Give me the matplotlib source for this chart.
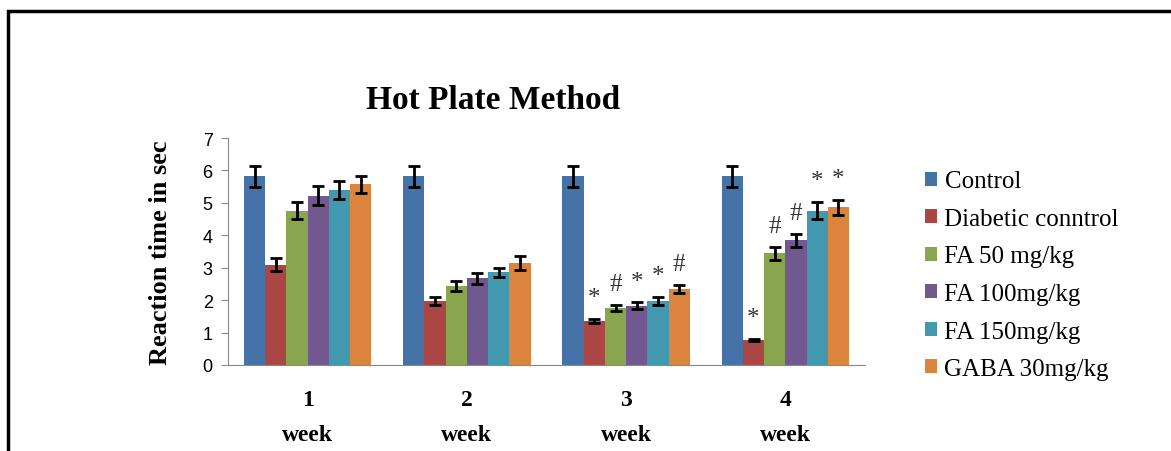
import numpy as np
import matplotlib
matplotlib.use("Agg")
import matplotlib.pyplot as plt
from matplotlib.patches import Rectangle

weeks = ["1\nweek", "2\nweek", "3\nweek", "4\nweek"]
groups = ["Control", "Diabetic conntrol", "FA 50 mg/kg", "FA 100mg/kg",
          "FA 150mg/kg", "GABA 30mg/kg"]

# mean reaction time (sec), one list per group, week 1..4
control = [5.82, 5.82, 5.82, 5.82]
diabetic = [3.09, 1.98, 1.35, 0.77]
fa50 = [4.76, 2.43, 1.76, 3.45]
fa100 = [5.22, 2.68, 1.83, 3.84]
fa150 = [5.39, 2.86, 1.98, 4.76]
gaba = [5.57, 3.14, 2.34, 4.87]

# error bar half-heights
control_err = [0.32, 0.32, 0.32, 0.32]
diabetic_err = [0.20, 0.13, 0.07, 0.03]
fa50_err = [0.26, 0.15, 0.10, 0.20]
fa100_err = [0.30, 0.17, 0.10, 0.20]
fa150_err = [0.28, 0.14, 0.13, 0.26]
gaba_err = [0.27, 0.21, 0.12, 0.23]

# significance marks above each bar ('' = none)
control_sig = ["", "", "", ""]
diabetic_sig = ["", "", "*", "*"]
fa50_sig = ["", "", "#", "#"]
fa100_sig = ["", "", "*", "#"]
fa150_sig = ["", "", "*", "*"]
gaba_sig = ["", "", "#", "*"]

values = [control, diabetic, fa50, fa100, fa150, gaba]
errors = [control_err, diabetic_err, fa50_err, fa100_err, fa150_err, gaba_err]
marks = [control_sig, diabetic_sig, fa50_sig, fa100_sig, fa150_sig, gaba_sig]
colors = ["#4572A7", "#AA4643", "#89A54E", "#71588F", "#4198AF", "#DB843D"]

serif = ["Liberation Serif", "DejaVu Serif"]

fig = plt.figure(figsize=(11.71, 4.52), dpi=100)
ax = fig.add_axes([228 / 1171, 1 - 366 / 452, 637 / 1171, 227 / 452])

# outer frame of the chart area (cropped at right/bottom)
fig.patches.append(Rectangle((8 / 1171, -0.1), 1.2, 1 - 12 / 452 + 0.1,
                             transform=fig.transFigure, fill=False,
                             edgecolor="black", linewidth=2.5))

x = np.arange(len(weeks))
w = 0.8 / len(groups)
for j, (vals, errs, sig) in enumerate(zip(values, errors, marks)):
    pos = x + (j - 2.5) * w
    ax.bar(pos, vals, width=w, color=colors[j], label=groups[j], zorder=2)
    ax.errorbar(pos, vals, yerr=errs, fmt="none", ecolor="black",
                elinewidth=2, capsize=4, capthick=2, zorder=3)
    for p, v, e, s in zip(pos, vals, errs, sig):
        if s:
            ax.text(p, v + e + 0.3, s, ha="center", va="bottom",
                    fontsize=18, family=serif, color="#333333")

ax.set_xlim(-0.5, len(weeks) - 0.5)
ax.set_ylim(0, 7)
ax.set_yticks(range(8))
ax.set_xticks(x)
ax.set_xticklabels(weeks, family=serif, fontsize=17, fontweight="bold",
                   linespacing=1.9)
for lab in ax.get_yticklabels():
    lab.set_family(["Liberation Sans", "DejaVu Sans"])
    lab.set_fontsize(13)
ax.tick_params(axis="x", length=0, pad=17)
ax.tick_params(axis="y", length=5, color="#888888", pad=6)
for s in ["top", "right"]:
    ax.spines[s].set_visible(False)
ax.spines["left"].set_color("#888888")
ax.spines["bottom"].set_color("#888888")

ax.set_ylabel("Reaction time in sec", family=serif, fontsize=19,
              fontweight="bold", labelpad=22)
fig.text(493 / 1171, 1 - 101 / 452, "Hot Plate Method", family=serif,
         fontsize=24, fontweight="bold", ha="center", va="center")

fig.legend(loc="upper left", bbox_to_anchor=(902 / 1171, 1 - 149 / 452),
           frameon=False, prop={"family": serif, "size": 18},
           handlelength=0.5, handleheight=0.5, handletextpad=0.3,
           labelspacing=0.62)

fig.savefig("out.png", dpi=100)
